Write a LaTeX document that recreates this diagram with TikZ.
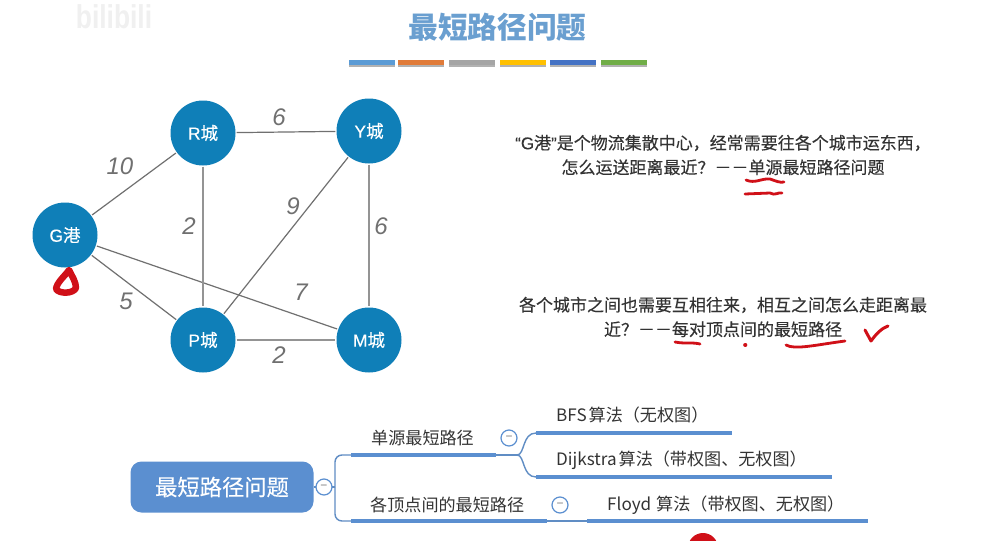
\documentclass[tikz,border=0pt]{standalone}
\usepackage{fontspec}
\setmainfont{Liberation Sans}
\newfontfamily\cjk{Noto Sans CJK SC}
\newfontfamily\cjkm[FakeBold=0.2]{Noto Sans CJK SC}
\newfontfamily\latm[FakeBold=0.2]{Liberation Sans}
\usetikzlibrary{calc}
\definecolor{cityblue}{HTML}{0F7FB8}
\definecolor{edgegray}{HTML}{707070}
\definecolor{titleblue}{HTML}{6A9FD0}
\definecolor{mapblue}{HTML}{5B8FD0}
\definecolor{textdark}{HTML}{333333}
\definecolor{inkred}{HTML}{D01018}
\tikzset{
 city/.style={circle,fill=cityblue,minimum size=65pt,inner sep=0pt,text=white,font=\fontsize{17.5}{17.5}\selectfont\cjkm},
 edge/.style={draw=edgegray,line width=1.2pt,shorten <=1pt,shorten >=1pt},
 weight/.style={text=edgegray,font=\fontsize{24}{24}\selectfont\itshape,inner sep=0pt},
 para/.style={text=textdark,font=\fontsize{17}{24.5}\selectfont\cjkm,align=center,inner sep=0pt},
 barline/.style={draw=mapblue,line width=4pt},
 link/.style={draw=mapblue!85!gray,line width=1.4pt},
 maptext/.style={text=textdark,font=\fontsize{17.1}{17.1}\selectfont\cjk,inner sep=0pt,anchor=west},
 ink/.style={draw=inkred,line width=2.8pt,line cap=round,line join=round},
 collapse/.style={circle,draw=mapblue,fill=white,line width=1.2pt,minimum size=16pt,inner sep=0pt,font=\fontsize{12}{12}\selectfont,text=gray},
 swatch/.style={minimum width=46pt,minimum height=5pt,inner sep=0pt}
}
\begin{document}
\begin{tikzpicture}[x=1pt,y=-1pt]
\useasboundingbox[fill=white] (0,0) rectangle (999,541);
% watermark
\node[text=black!6,font=\fontsize{33}{33}\selectfont\bfseries,inner sep=0pt,xscale=.8] (wm) at (114,17) {bilibili};
% title
\node[text=titleblue,font=\fontsize{29.7}{29.7}\selectfont\bfseries\cjk,inner sep=0pt] (title) at (497.5,27) {最短路径问题};
\foreach \n/\x/\c in {a/372/5B9BD5,b/421/E07B39,c/472/A5A5A5,d/523/FFC000,e/573/4472C4,f/624/70AD47}{
  \definecolor{sw}{HTML}{\c}
  \node[swatch,fill=black!30] at (\x,64) {};
  \node[swatch,fill=sw] (\n) at (\x,62) {};
}
% graph
\node[city] (G) at (65,235) {{\latm G}港};
\node[city] (R) at (203,133) {{\latm R}城};
\node[city] (Y) at (369,131) {{\latm Y}城};
\node[city] (P) at (203,340) {{\latm P}城};
\node[city] (M) at (369,340) {{\latm M}城};
\draw[edge] (G)--(R);
\draw[edge] (G)--(P);
\draw[edge] (G)--(M);
\draw[edge] (R)--(Y);
\draw[edge,draw=edgegray!75,line width=1.1pt] (R)--(P);
\draw[edge] (Y)--(P);
\draw[edge,draw=edgegray!75,line width=1.1pt] (Y)--(M);
\draw[edge,draw=edgegray!75,line width=1.1pt] (P)--(M);
\node[weight] (w1) at (120,166) {10};
\node[weight] (w2) at (279,117) {6};
\node[weight] (w3) at (189,226) {2};
\node[weight] (w4) at (293,206) {9};
\node[weight] (w5) at (381,226) {6};
\node[weight] (w6) at (301,292) {7};
\node[weight] (w7) at (126,301) {5};
\node[weight] (w8) at (279,355) {2};
% paragraphs
\node[para] (p1) at (723,155) {{\latm “G}港{\latm ”}是个物流集散中心，经常需要往各个城市运东西，\\怎么运送距离最近？－－单源最短路径问题};
\node[para] (p2) at (723,317) {各个城市之间也需要互相往来，相互之间怎么走距离最\\近？－－每对顶点间的最短路径};
% ink
\draw[ink] (746,180) .. controls (755,184) and (762,178) .. (770,179) .. controls (776,181) and (780,183) .. (784,182);
\draw[ink] (745,194) -- (770,193) .. controls (775,196) and (778,192) .. (782,193);
\draw[ink] (675,342) .. controls (685,344) and (692,342) .. (700,344);
\draw[ink,line width=3.6pt] (745,345) -- (745.5,345);
\draw[ink] (786,345) .. controls (795,350) and (815,345) .. (845,341);
\draw[ink,line width=3pt] (865,330) -- (871,341) .. controls (876,334) and (882,328) .. (888,326);
\draw[ink,line width=6.5pt,fill=white] (69,270) .. controls (65,276) and (57,282) .. (56,289) .. controls (59,294) and (73,294) .. (76,288) .. controls (76,282) and (72,276) .. (69,270) -- cycle;
% mind map
\node[rounded corners=11pt,fill=mapblue,minimum width=183pt,minimum height=51pt,inner sep=0pt,text=white,font=\fontsize{22.3}{22.3}\selectfont\cjkm] (root) at (222,487) {最短路径问题};
\coordinate (j1) at (335,487);
\coordinate (a1) at (351,455);
\coordinate (a2) at (351,521);
\coordinate (b1) at (496,455);
\coordinate (b2) at (547,521);
\coordinate (j2) at (517,455);
\coordinate (c1) at (536,433);
\coordinate (c2) at (732,433);
\coordinate (d1) at (536,477);
\coordinate (d2) at (832,477);
\coordinate (e1) at (587,521);
\coordinate (e2) at (868,521);
\draw[link] (root.east) -- (j1);
\draw[link,rounded corners=7pt] (j1) |- (a1);
\draw[link,rounded corners=7pt] (j1) |- (a2);
\draw[link] (b2) -- (e1);
\draw[link] (b1) -- (j2);
\draw[link] (j2) .. controls (525,455) and (522,433) .. (c1);
\draw[link] (j2) .. controls (525,455) and (522,477) .. (d1);
\draw[barline] (a1) -- (b1);
\draw[barline] (a2) -- (b2);
\draw[barline] (c1) -- (c2);
\draw[barline] (d1) -- (d2);
\draw[barline] (e1) -- (e2);
\node[collapse] (k0) at (324,487) {−};
\node[collapse] (k1) at (509,438) {−};
\node[collapse] (k2) at (560,505) {−};
\node[maptext] (t1) at (371,438) {单源最短路径};
\node[maptext] (t2) at (370,505) {各顶点间的最短路径};
\node[maptext] (t3) at (556,415) {BFS\hspace{2pt}{\cjk 算法（无权图）}};
\node[maptext] (t4) at (556,460) {Dijkstra\hspace{2pt}{\cjk 算法（带权图、无权图）}};
\node[maptext] (t5) at (607,505) {Floyd\hspace{5pt}算法（带权图、无权图）};
% red blob at the bottom edge
\fill[inkred] (703,548) circle (15pt);
\end{tikzpicture}
\end{document}
